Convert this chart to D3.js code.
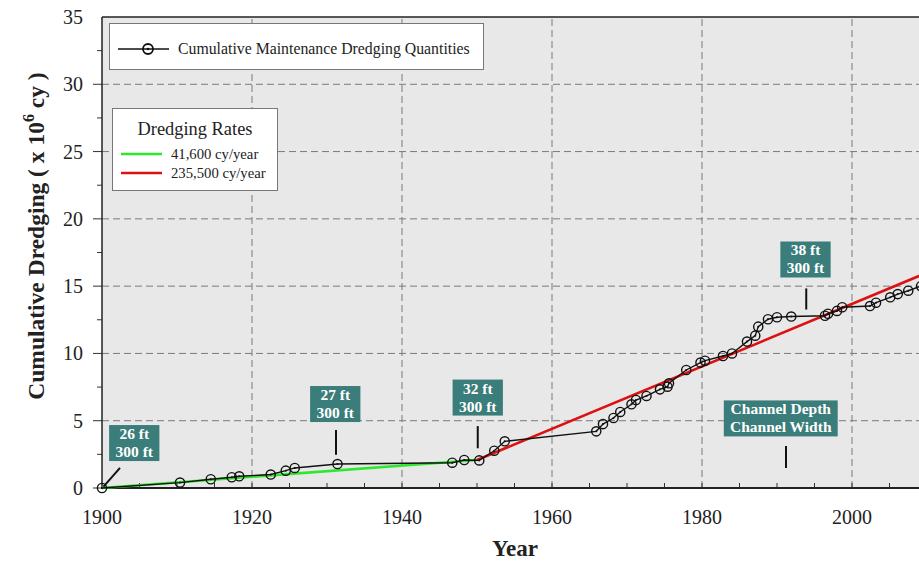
<!DOCTYPE html>
<html>
<head>
<meta charset="utf-8">
<script src="https://cdn.jsdelivr.net/npm/d3@7"></script>
<style>
  body { margin: 0; background: #fff; }
  svg { display: block; }
</style>
</head>
<body>
<div id="chart"></div>
<script>
// cumulative maintenance dredging (million cy)
const years = [1900, 1910.4, 1914.5, 1917.3, 1918.3, 1922.5, 1924.5, 1925.7, 1931.4,
  1946.7, 1948.3, 1950.3, 1952.3, 1953.7, 1965.9, 1966.8, 1968.2, 1969.1, 1970.6,
  1971.2, 1972.6, 1974.4, 1975.4, 1975.6, 1977.9, 1979.8, 1980.4, 1982.8, 1984.0,
  1986.0, 1987.1, 1987.5, 1988.8, 1990.0, 1991.9, 1996.4, 1996.8, 1998.0, 1998.7,
  2002.4, 2003.2, 2005.1, 2006.1, 2007.5, 2009.2]
const quantities = [0, 0.4, 0.65, 0.8, 0.87, 1.0, 1.29, 1.49, 1.78,
  1.88, 2.08, 2.05, 2.77, 3.47, 4.21, 4.75, 5.2, 5.65, 6.22,
  6.54, 6.84, 7.33, 7.53, 7.78, 8.77, 9.32, 9.46, 9.81, 10.0,
  10.88, 11.32, 11.99, 12.54, 12.69, 12.74, 12.8, 12.95, 13.16, 13.43,
  13.52, 13.77, 14.17, 14.41, 14.66, 15.0]

// dredging rate trend lines: [year, cumulative]
const rateLabels = ['41,600 cy/year', '235,500 cy/year']
const rateColors = ['#2ee82e', '#dd1111']
const rateLines = [
  [[1900, 0], [1950, 2.08]],
  [[1950, 2.08], [2010, 16.0]]
]

// channel depth / width annotations
const noteText = [['26 ft', '300 ft'], ['27 ft', '300 ft'], ['32 ft', '300 ft'], ['38 ft', '300 ft'], ['Channel Depth', 'Channel Width']]
const noteAt = [[1904.3, 3.34], [1931.1, 6.24], [1950.1, 6.72], [1993.8, 16.98], [1990.5, 5.17]]
const noteLeader = [[[1900.2, 0.1], [1902.4, 1.5]], [[1931.2, 2.47], [1931.2, 4.31]], [[1950.1, 2.95], [1950.1, 4.6]],
  [[1993.9, 13.26], [1993.9, 14.83]], [[1991.2, 1.48], [1991.2, 3.12]]]

const xTicks = [1900, 1920, 1940, 1960, 1980, 2000]
const yTicks = [0, 5, 10, 15, 20, 25, 30, 35]

const width = 919
const height = 562
const serif = '"Liberation Serif", "DejaVu Serif", serif'

const svg = d3.select('#chart')
  .append('svg')
  .attr('width', width)
  .attr('height', height)
  .style('font-family', serif)

const x = d3.scaleLinear().domain([1900, 2010]).range([102, 927])
const y = d3.scaleLinear().domain([0, 35]).range([488, 17])

// plot background
svg.append('rect')
  .attr('x', x(1900))
  .attr('y', y(35))
  .attr('width', x(2010) - x(1900))
  .attr('height', y(0) - y(35))
  .attr('fill', '#e8e8e8')

// grid
const grid = svg.append('g')
  .attr('stroke', '#7a7a7a')
  .attr('stroke-width', 1)
  .attr('stroke-dasharray', '7,4')
xTicks.slice(1).forEach((t) => {
  grid.append('line').attr('x1', x(t)).attr('x2', x(t)).attr('y1', y(0)).attr('y2', y(35))
})
yTicks.slice(1, -1).forEach((t) => {
  grid.append('line').attr('x1', x(1900)).attr('x2', x(2010)).attr('y1', y(t)).attr('y2', y(t))
})

// minor ticks
const ticks = svg.append('g').attr('stroke', '#333').attr('stroke-width', 1)
d3.range(1905, 2010, 5).forEach((t) => {
  ticks.append('line').attr('x1', x(t)).attr('x2', x(t)).attr('y1', y(0)).attr('y2', y(0) - 5)
})
d3.range(2.5, 35, 2.5).forEach((t) => {
  const major = t % 5 === 0
  ticks.append('line').attr('x1', x(1900) - (major ? 9 : 5)).attr('x2', x(1900)).attr('y1', y(t)).attr('y2', y(t))
})
ticks.append('line').attr('x1', x(1900) - 9).attr('x2', x(1900)).attr('y1', y(0)).attr('y2', y(0))

// frame
svg.append('line').attr('x1', x(1900)).attr('x2', width).attr('y1', y(0)).attr('y2', y(0))
  .attr('stroke', '#222').attr('stroke-width', 2)
svg.append('line').attr('x1', x(1900)).attr('x2', x(1900)).attr('y1', y(0) + 1).attr('y2', y(35))
  .attr('stroke', '#222').attr('stroke-width', 1.5)
svg.append('line').attr('x1', x(1900)).attr('x2', width).attr('y1', y(35)).attr('y2', y(35))
  .attr('stroke', '#222').attr('stroke-width', 1.5)

// tick labels
svg.append('g').selectAll('text')
  .data(xTicks)
  .join('text')
  .attr('x', (d) => x(d))
  .attr('y', 524)
  .attr('text-anchor', 'middle')
  .attr('font-size', 20)
  .attr('fill', '#222')
  .text((d) => d)

svg.append('g').selectAll('text')
  .data(yTicks)
  .join('text')
  .attr('x', 83)
  .attr('y', (d) => y(d) + 7)
  .attr('text-anchor', 'end')
  .attr('font-size', 20)
  .attr('fill', '#222')
  .text((d) => d)

// axis titles
svg.append('text')
  .attr('x', 515)
  .attr('y', 556)
  .attr('text-anchor', 'middle')
  .attr('font-size', 23)
  .attr('font-weight', 'bold')
  .attr('fill', '#222')
  .text('Year')

const yTitle = svg.append('text')
  .attr('transform', 'translate(44,236) rotate(-90)')
  .attr('text-anchor', 'middle')
  .attr('font-size', 23.5)
  .attr('font-weight', 'bold')
  .attr('fill', '#222')
yTitle.append('tspan').text('Cumulative Dredging ( x 10')
yTitle.append('tspan').attr('dy', -10).attr('font-size', 16).text('6')
yTitle.append('tspan').attr('dy', 10).text(' cy )')

// trend lines
const line = d3.line().x((d) => x(d[0])).y((d) => y(d[1]))
rateLines.forEach((pts, i) => {
  svg.append('path')
    .datum(pts)
    .attr('d', line)
    .attr('fill', 'none')
    .attr('stroke', rateColors[i])
    .attr('stroke-width', 2.6)
})

// cumulative series
const series = years.map((yr, i) => [yr, quantities[i]])
svg.append('path')
  .datum(series)
  .attr('d', line)
  .attr('fill', 'none')
  .attr('stroke', '#111')
  .attr('stroke-width', 1.4)

const marks = svg.append('g')
series.forEach((d) => {
  marks.append('circle')
    .attr('cx', x(d[0]))
    .attr('cy', y(d[1]))
    .attr('r', 4.6)
    .attr('fill', 'none')
    .attr('stroke', '#111')
    .attr('stroke-width', 1.4)
  marks.append('circle')
    .attr('cx', x(d[0]))
    .attr('cy', y(d[1]))
    .attr('r', 1)
    .attr('fill', '#111')
})

// annotations
noteText.forEach((lines, i) => {
  const [lx, ly] = noteAt[i]
  const cx = x(lx)
  const cy = y(ly)
  const g = svg.append('g')
  const rect = g.append('rect').attr('fill', '#3a7d7a')
  const txt = g.append('text')
    .attr('text-anchor', 'middle')
    .attr('font-size', 15.5)
    .attr('font-weight', 'bold')
    .attr('fill', '#fff')
  lines.forEach((s, j) => {
    txt.append('tspan').attr('x', cx).attr('y', cy - 4 + j * 18).text(s)
  })
  const bb = txt.node().getBBox()
  rect.attr('x', cx - bb.width / 2 - 6)
    .attr('y', cy - 18)
    .attr('width', bb.width + 12)
    .attr('height', 36)

  const [p0, p1] = noteLeader[i]
  svg.append('line')
    .attr('x1', x(p0[0])).attr('y1', y(p0[1]))
    .attr('x2', x(p1[0])).attr('y2', y(p1[1]))
    .attr('stroke', '#111')
    .attr('stroke-width', 2)
})

// legend: series
const leg1 = svg.append('g')
leg1.append('rect')
  .attr('x', 109.5).attr('y', 23.5).attr('width', 374).attr('height', 46)
  .attr('fill', '#fff').attr('stroke', '#777').attr('stroke-width', 1)
leg1.append('line').attr('x1', 118).attr('x2', 169).attr('y1', 49).attr('y2', 49)
  .attr('stroke', '#111').attr('stroke-width', 1.5)
leg1.append('circle').attr('cx', 148).attr('cy', 49).attr('r', 5).attr('fill', 'none')
  .attr('stroke', '#111').attr('stroke-width', 1.8)
leg1.append('circle').attr('cx', 148).attr('cy', 49).attr('r', 1.3).attr('fill', '#111')
leg1.append('text').attr('x', 178).attr('y', 54).attr('font-size', 15.8).attr('fill', '#222')
  .text('Cumulative Maintenance Dredging Quantities')

// legend: rates
const leg2 = svg.append('g')
leg2.append('rect')
  .attr('x', 112.5).attr('y', 108.5).attr('width', 165).attr('height', 82)
  .attr('fill', '#fff').attr('stroke', '#777').attr('stroke-width', 1)
leg2.append('text').attr('x', 195).attr('y', 135).attr('text-anchor', 'middle')
  .attr('font-size', 18.4).attr('fill', '#222').text('Dredging Rates')
rateLabels.forEach((s, i) => {
  const ly = 154 + i * 19
  leg2.append('line').attr('x1', 121).attr('x2', 162).attr('y1', ly).attr('y2', ly)
    .attr('stroke', rateColors[i]).attr('stroke-width', 2.6)
  leg2.append('text').attr('x', 171).attr('y', ly + 5).attr('font-size', 14.7)
    .attr('fill', '#222').text(s)
})
</script>
</body>
</html>
